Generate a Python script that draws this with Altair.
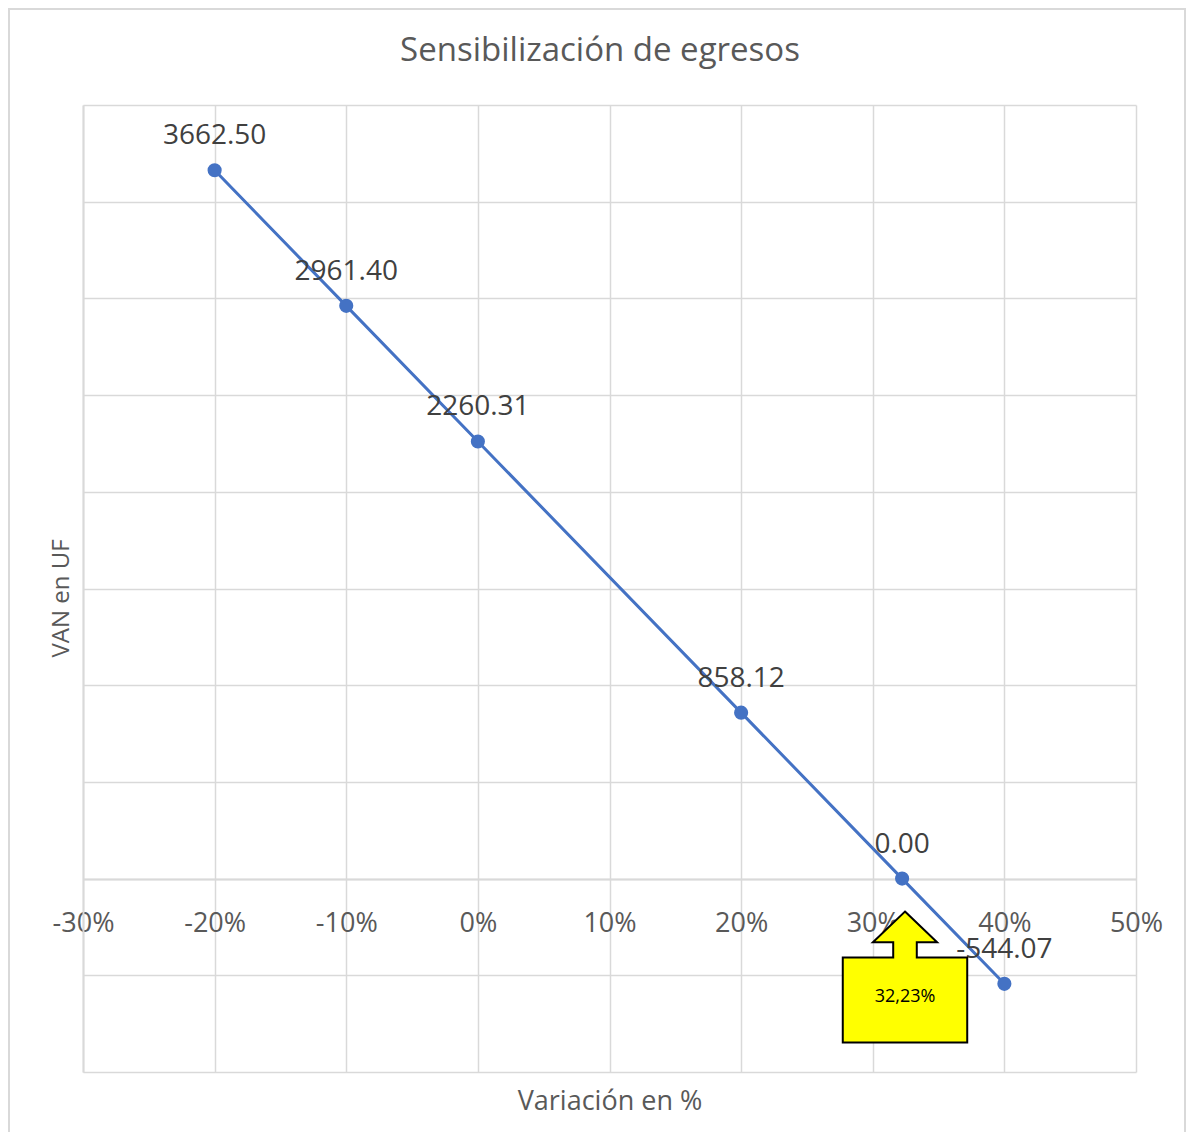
import altair as alt
import pandas as pd

# Data
variacion = [-0.20, -0.10, 0.00, 0.20, 0.3223, 0.40]
van = [3662.50, 2961.40, 2260.31, 858.12, 0.00, -544.07]
etiquetas = ["3662.50", "2961.40", "2260.31", "858.12", "0.00", "-544.07"]
x_ticks = [-0.3, -0.2, -0.1, 0.0, 0.1, 0.2, 0.3, 0.4, 0.5]
y_ticks = [-1000, -500, 0, 500, 1000, 1500, 2000, 2500, 3000, 3500, 4000]

callout_x = [0.3245]
callout_y = [-509]
callout_text_y = [-612]
callout_text = ["32,23%"]
chart_title = ["Sensibilización de egresos"]

FONT = "Open Sans"
df = pd.DataFrame({"x": variacion, "y": van, "lab": etiquetas})
dc = pd.DataFrame({"x": callout_x, "y": callout_y, "ty": callout_text_y, "t": callout_text})

xscale = alt.Scale(domain=[-0.3, 0.5], nice=False, zero=False)
yscale = alt.Scale(domain=[-1000, 4000], nice=False, zero=False)

x_enc = alt.X("x:Q", scale=xscale, title="Variación en %",
              axis=alt.Axis(values=x_ticks, format=".0%", offset=-193,
                            labelExpr="replace(datum.label, '\u2212', '-')",
                            labelFlush=False, labelOverlap=False,
                            ticks=False, labelPadding=31, titlePadding=152,
                            labelFontSize=27, titleFontSize=27,
                            labelColor="#595959", titleColor="#595959",
                            labelFont=FONT, titleFont=FONT, titleFontWeight="normal",
                            domainColor="#d9d9d9", domainWidth=2,
                            gridColor="#d9d9d9", gridWidth=1.5))
y_enc = alt.Y("y:Q", scale=yscale, title="VAN en UF",
              axis=alt.Axis(values=y_ticks, labels=False, ticks=False,
                            titlePadding=10, titleFontSize=24, titleColor="#595959",
                            titleFont=FONT, titleFontWeight="normal", titleY=493,
                            domainColor="#d9d9d9", domainWidth=2,
                            gridColor="#d9d9d9", gridWidth=1.5))

base = alt.Chart(df)
line = base.mark_line(color="#4472C4", strokeWidth=3).encode(x=x_enc, y=y_enc)
pts = base.mark_point(filled=True, color="#4472C4", size=200, opacity=1).encode(x="x:Q", y="y:Q")
labels = base.mark_text(fontSize=28, font=FONT, color="#404040", dy=-26,
                        baseline="alphabetic", align="center").encode(
    x="x:Q", y="y:Q", text="lab:N")

arrow_path = ("M0,-1L0.49,-0.53L0.18,-0.53L0.18,-0.3L0.95,-0.3L0.95,1"
              "L-0.95,1L-0.95,-0.3L-0.18,-0.3L-0.18,-0.53L-0.49,-0.53Z")
callout = alt.Chart(dc).mark_point(shape=arrow_path, size=131 * 131, filled=True,
                                   fill="#FFFF00", stroke="#000000", strokeWidth=2,
                                   opacity=1, fillOpacity=1, strokeOpacity=1).encode(
    x="x:Q", y="y:Q")
callout_txt = alt.Chart(dc).mark_text(fontSize=18, font=FONT, color="#000000",
                                      baseline="middle", align="center").encode(
    x="x:Q", y="ty:Q", text="t:N")

title_mark = alt.Chart(pd.DataFrame({"t": chart_title})).mark_text(
    fontSize=33, font=FONT, color="#595959", baseline="middle", align="center").encode(
    x=alt.value(517), y=alt.value(-54), text="t:N")

frame = alt.Chart(pd.DataFrame({"a": [0]})).mark_rect(
    fill="transparent", stroke="#d9d9d9", strokeWidth=2).encode(
    x=alt.value(-74), x2=alt.value(1102), y=alt.value(-96), y2=alt.value(1100))

chart = alt.layer(frame, line, pts, labels, callout, callout_txt, title_mark).properties(
    width=1053, height=967,
    autosize=alt.AutoSizeParams(type="none"),
    padding={"left": 75, "top": 97, "right": 50, "bottom": 60},
).configure_view(stroke=None)

chart.save("out.html", embed_options={"renderer": "svg", "actions": False})
